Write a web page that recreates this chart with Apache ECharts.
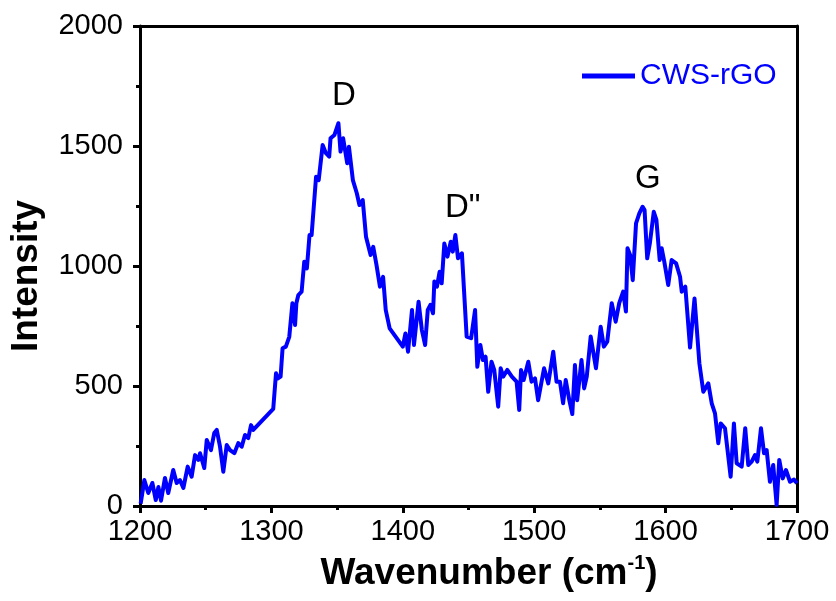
<!DOCTYPE html>
<html>
<head>
<meta charset="utf-8">
<script src="https://cdn.jsdelivr.net/npm/echarts@6/dist/echarts.min.js"></script>
<style>
html,body{margin:0;padding:0;background:#fff;}
#c{width:836px;height:601px;}
</style>
</head>
<body>
<div id="c"></div>
<script>
const seriesName = 'CWS-rGO';
const xTicks = [1200, 1300, 1400, 1500, 1600, 1700];
const yTicks = [0, 500, 1000, 1500, 2000];
const xTitle = '{a|Wavenumber (cm}{b|-1}{a|)}';
const yTitle = 'Intensity';
const wavenumber = [
1200.5,1203.3,1206.3,1209.4,1212,1214,1216,1219,1221.5,1225.3,1227.9,1230.4,1233,1236.3,1239.3,1241.9,1244.4,1245.7,1248.9,1250.8,1254,1256.5,1258.4,1260.9,1263.4,1266,1268.5,1271.8,1274.8,1277.4,1279.9,1282.4,1284.5,1286.2,1301.4,
1303.5,1305,1307,1308.5,1311,1313.6,1316,1318,1319,1320.5,1323,1325,1327,1329,1330.6,1334,1336,1339,1341.5,1344,1345,1348,1351,1352.6,1354.6,1357.7,1359,1362,1365,1367,1369.5,1372,1375.5,1377.5,1380,1382.6,1385,1387,1390,1400,
1402,1404,1407,1408.5,1412,1414.5,1417,1419,1421,1423,1424,1426,1428,1429.6,1431.6,1434,1436.5,1438,1440,1442,1445,1448.6,1452,1455,1456.7,1459,1461,1463,1465,1467.5,1469.6,1472.6,1474.5,1476.4,1479.5,1483,1486.6,1488.6,1490,1492,1495.5,1498,1500.6,1503,
1507.5,1510.7,1514.5,1517,1519.6,1522,1524,1526.7,1529,1531,1532.7,1536,1538,1540,1543,1547,1550.6,1553,1555.6,1559,1562,1564.7,1567.7,1569.8,1571,1573,1575,1577.5,1580,1582.5,1584,1586,1588,1591,1593,1595.5,1597,1599,
1602,1604.6,1608,1611,1612.3,1615,1618.6,1622,1625.7,1628.7,1632.5,1635.1,1637.6,1640.1,1641.9,1645.2,1649.5,1652,1654.1,1657.9,1660.6,1662.9,1665.5,1668,1669.8,1672.6,1674.9,1676.9,1679.4,1681.9,1684.5,1686.5,1689.1,1691.6,1694.7,1697.7,1700
];
const intensity = [
10,108,54,96,25,79,22,117,54,150,96,108,75,164,122,212,192,220,158,275,233,304,317,247,143,254,233,220,262,247,296,283,337,317,405,
553,532,539,657,664,705,845,754,845,879,893,1018,990,1129,1129,1372,1358,1504,1470,1456,1532,1546,1595,1477,1532,1428,1497,1358,1303,1254,1275,1122,1046,1080,1004,914,955,817,740,664,
719,643,817,671,851,733,671,817,838,803,935,914,976,928,1094,1039,1101,1060,1129,1032,1053,706,699,817,580,671,608,622,476,601,567,414,574,539,567,539,518,400,567,525,601,518,532,441,
574,511,643,518,518,428,525,441,383,587,441,608,490,539,706,574,747,664,685,845,768,845,893,810,1074,1046,941,1178,1219,1247,1233,1032,1094,1226,1192,1025,1074,1018,
921,1025,1011,955,893,914,660,865,595,476,511,428,386,261,344,324,122,344,178,164,324,171,185,212,185,324,220,233,101,171,5,192,115,150,101,110,95
];
const peakLabels = ['D', 'D"', 'G'];

const data = wavenumber.map((x, i) => [x, intensity[i]]);
const FONT = '"Liberation Sans", Arial, sans-serif';

const chart = echarts.init(document.getElementById('c'), null, {renderer: 'canvas'});
chart.setOption({
  animation: false,
  backgroundColor: '#fff',
  grid: {left: 140, right: 39, top: 26, bottom: 95, containLabel: false},
  legend: {
    data: [seriesName],
    left: 577, top: 56,
    icon: 'rect', itemWidth: 53, itemHeight: 5, itemGap: 8,
    textStyle: {color: '#0000ff', fontSize: 30, fontFamily: FONT}
  },
  xAxis: [{
    type: 'value', min: xTicks[0], max: xTicks[xTicks.length - 1], interval: 100,
    axisLine: {show: true, onZero: false, lineStyle: {color: '#000', width: 3}},
    axisTick: {show: true, inside: false, length: 7, lineStyle: {color: '#000', width: 3}},
    minorTick: {show: true, splitNumber: 2, length: 4, lineStyle: {color: '#000', width: 3}},
    axisLabel: {color: '#000', fontSize: 29, fontFamily: FONT, margin: 11, formatter: v => String(v)},
    splitLine: {show: false}
  }, {
    type: 'value', position: 'top', min: xTicks[0], max: xTicks[xTicks.length - 1],
    axisLine: {show: true, onZero: false, lineStyle: {color: '#000', width: 3}},
    axisTick: {show: false}, axisLabel: {show: false}, splitLine: {show: false}
  }],
  yAxis: [{
    type: 'value', min: yTicks[0], max: yTicks[yTicks.length - 1], interval: 500,
    axisLine: {show: true, onZero: false, lineStyle: {color: '#000', width: 3}},
    axisTick: {show: true, inside: false, length: 7, lineStyle: {color: '#000', width: 3}},
    minorTick: {show: true, splitNumber: 2, length: 4, lineStyle: {color: '#000', width: 3}},
    axisLabel: {color: '#000', fontSize: 29, fontFamily: FONT, margin: 17, formatter: v => String(v)},
    splitLine: {show: false}
  }, {
    type: 'value', position: 'right', min: yTicks[0], max: yTicks[yTicks.length - 1],
    axisLine: {show: true, onZero: false, lineStyle: {color: '#000', width: 3}},
    axisTick: {show: false}, axisLabel: {show: false}, splitLine: {show: false}
  }],
  series: [{
    name: seriesName, type: 'line', data: data,
    showSymbol: false, symbol: 'none',
    lineStyle: {color: '#0000ff', width: 4, join: 'round'},
    itemStyle: {color: '#0000ff'}
  }],
  graphic: [
    {type: 'text', left: 332, top: 79, style: {text: peakLabels[0], fontSize: 33, fontFamily: FONT, fill: '#000'}},
    {type: 'text', left: 445, top: 191, style: {text: peakLabels[1], fontSize: 33, fontFamily: FONT, fill: '#000'}},
    {type: 'text', left: 635, top: 162, style: {text: peakLabels[2], fontSize: 33, fontFamily: FONT, fill: '#000'}},
    {type: 'text', x: 489, y: 574, style: {
      text: xTitle, align: 'center', verticalAlign: 'middle',
      rich: {
        a: {fontSize: 37, fontWeight: 'bold', fontFamily: FONT, fill: '#000', lineHeight: 42},
        b: {fontSize: 20, fontWeight: 'bold', fontFamily: FONT, fill: '#000', verticalAlign: 'top', lineHeight: 42, padding: [0,0,16,0]}
      }
    }},
    {type: 'text', x: 27, y: 276, rotation: Math.PI / 2, style: {
      text: yTitle, align: 'center', verticalAlign: 'middle',
      fontSize: 37, fontWeight: 'bold', fontFamily: FONT, fill: '#000'
    }}
  ]
});
</script>
</body>
</html>
